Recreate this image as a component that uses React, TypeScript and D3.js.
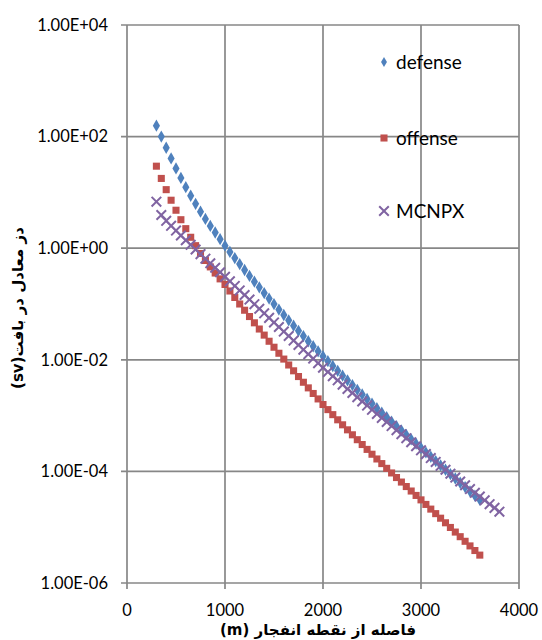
import React from 'react';
import * as d3 from 'd3';

const distanceM = [300,350,400,450,500,550,600,650,700,750,800,850,900,950,1000,1050,1100,1150,1200,1250,1300,1350,1400,1450,1500,1550,1600,1650,1700,1750,1800,1850,1900,1950,2000,2050,2100,2150,2200,2250,2300,2350,2400,2450,2500,2550,2600,2650,2700,2750,2800,2850,2900,2950,3000,3050,3100,3150,3200,3250,3300,3350,3400,3450,3500,3550,3600,3650,3700,3750,3800];

const defenseSv = [157, 100, 63.1, 40.7, 26.9, 18.2, 12.4, 8.71, 6.24, 4.52, 3.35, 2.51, 1.91, 1.45, 1.11,
  0.857, 0.665, 0.519, 0.406, 0.319, 0.251, 0.199, 0.157, 0.125, 0.0995, 0.0794, 0.0635, 0.0509, 0.0409, 0.0330, 0.0266, 0.0215, 0.0175, 0.0142, 0.0116,
  9.44e-3, 7.73e-3, 6.34e-3, 5.20e-3, 4.28e-3, 3.52e-3, 2.90e-3, 2.40e-3, 1.98e-3, 1.64e-3, 1.36e-3, 1.13e-3, 9.35e-4, 7.78e-4, 6.47e-4, 5.40e-4, 4.50e-4, 3.76e-4, 3.14e-4, 2.63e-4,
  2.19e-4, 1.83e-4, 1.53e-4, 1.28e-4, 1.07e-4, 8.91e-5, 7.46e-5, 6.25e-5, 5.24e-5, 4.39e-5, 3.68e-5, 3.09e-5];

const offenseSv = [29.5, 17.8, 11.2, 7.24, 4.79, 3.24, 2.24, 1.57, 1.11, 0.804, 0.603, 0.462, 0.359, 0.282, 0.224,
  0.171, 0.131, 0.100, 0.0773, 0.0596, 0.0460, 0.0356, 0.0277, 0.0215, 0.0168, 0.0131, 0.0103, 8.07e-3, 6.35e-3, 5.01e-3, 3.96e-3, 3.14e-3, 2.49e-3, 1.99e-3, 1.58e-3,
  1.28e-3, 1.04e-3, 8.41e-4, 6.84e-4, 5.56e-4, 4.53e-4, 3.70e-4, 3.03e-4, 2.48e-4, 2.03e-4, 1.67e-4, 1.38e-4, 1.135e-4, 9.38e-5, 7.76e-5, 6.44e-5, 5.35e-5, 4.45e-5, 3.71e-5, 3.09e-5,
  2.56e-5, 2.11e-5, 1.75e-5, 1.45e-5, 1.20e-5, 9.89e-6, 8.18e-6, 6.76e-6, 5.59e-6, 4.62e-6, 3.82e-6, 3.16e-6];

const mcnpxSv = [6.81, 3.94, 3.09, 2.52, 2.07, 1.69, 1.39, 1.15, 0.948, 0.783, 0.649, 0.537, 0.446, 0.371, 0.308,
  0.255, 0.211, 0.175, 0.145, 0.120, 0.0993, 0.0822, 0.0681, 0.0564, 0.0467, 0.0387, 0.0321, 0.0267, 0.0221, 0.0184, 0.0152, 0.0126, 0.0105, 8.71e-3, 7.23e-3,
  6.07e-3, 5.09e-3, 4.28e-3, 3.59e-3, 3.01e-3, 2.54e-3, 2.13e-3, 1.79e-3, 1.51e-3, 1.27e-3, 1.07e-3, 9.08e-4, 7.67e-4, 6.49e-4, 5.48e-4, 4.65e-4, 3.94e-4, 3.33e-4, 2.82e-4, 2.39e-4,
  2.04e-4, 1.73e-4, 1.48e-4, 1.26e-4, 1.07e-4, 9.10e-5, 7.74e-5, 6.59e-5, 5.64e-5, 4.83e-5, 4.13e-5, 3.54e-5, 3.03e-5, 2.59e-5, 2.22e-5, 1.90e-5];

const xTicks = [0, 1000, 2000, 3000, 4000];
const yTicks = [1e-6, 1e-4, 1e-2, 1e0, 1e2, 1e4];
const yTickLabels = ['1.00E-06', '1.00E-04', '1.00E-02', '1.00E+00', '1.00E+02', '1.00E+04'];
const seriesNames = ['defense', 'offense', 'MCNPX'];
const xTitle = 'فاصله از نقطه انفجار (m)';
const yTitle = 'دز معادل در بافت(sv)';

const COLORS = { defense: '#4F81BD', offense: '#C0504D', MCNPX: '#8064A2' };
const GRID = '#878787';
const FONT = 'Lato, "Open Sans", sans-serif';
const AR_FONT = '"DejaVu Sans", sans-serif';

export default function App() {
  const x = d3.scaleLinear().domain([0, 4000]).range([127, 519]);
  const y = d3.scaleLog().domain([1e-6, 1e4]).range([583, 25]);

  const diamond = d3.symbol().type(d3.symbolDiamond).size(44)();
  const square = d3.symbol().type(d3.symbolSquare).size(50)();

  const defensePts = defenseSv.map((v, i) => [x(distanceM[i]), y(v)]);
  const offensePts = offenseSv.map((v, i) => [x(distanceM[i]), y(v)]);
  const mcnpxPts = mcnpxSv.map((v, i) => [x(distanceM[i]), y(v)]);

  const cross = (cx: number, cy: number, r: number, key: string | number) => (
    <path key={key} d={`M${cx - r},${cy - r}L${cx + r},${cy + r}M${cx - r},${cy + r}L${cx + r},${cy - r}`}
      stroke={COLORS.MCNPX} strokeWidth={2} fill="none" />
  );

  const legendY = [62, 138, 211];

  return (
    <svg width={542} height={640} style={{ position: 'absolute', left: 0, top: 0, background: '#fff' }}>
      <rect x={0} y={0} width={542} height={640} fill="#fff" />
      {/* grid */}
      {xTicks.map((t) => (
        <line key={'gx' + t} x1={x(t)} x2={x(t)} y1={y(1e4)} y2={y(1e-6) + 6} stroke={GRID} strokeWidth={1.7} />
      ))}
      {yTicks.map((t) => (
        <line key={'gy' + t} x1={x(0) - 6} x2={x(4000)} y1={y(t)} y2={y(t)} stroke={GRID} strokeWidth={1.7} />
      ))}
      {/* tick labels */}
      {yTicks.map((t, i) => (
        <text key={'yl' + t} x={108} y={y(t)} dy="0.35em" textAnchor="end" fontFamily={FONT} fontSize={16.5} fill="#000">
          {yTickLabels[i]}
        </text>
      ))}
      {xTicks.map((t) => (
        <text key={'xl' + t} x={x(t)} y={616} textAnchor="middle" fontFamily={FONT} fontSize={16.5} fill="#000">
          {t}
        </text>
      ))}
      {/* series */}
      <g>
        {defensePts.map(([px, py], i) => (
          <path key={'d' + i} d={diamond} transform={`translate(${px},${py})`} fill={COLORS.defense} />
        ))}
      </g>
      <g>
        {offensePts.map(([px, py], i) => (
          <path key={'o' + i} d={square} transform={`translate(${px},${py})`} fill={COLORS.offense} />
        ))}
      </g>
      <g>{mcnpxPts.map(([px, py], i) => cross(px, py, 4.8, 'm' + i))}</g>
      {/* legend */}
      <path d={d3.symbol().type(d3.symbolDiamond).size(30)()} transform={`translate(384,${legendY[0]})`} fill={COLORS.defense} />
      <path d={square} transform={`translate(384,${legendY[1]})`} fill={COLORS.offense} />
      {cross(384, legendY[2], 4.8, 'lg')}
      {seriesNames.map((n, i) => (
        <text key={n} x={396} y={legendY[i]} dy="0.35em" fontFamily={FONT} fontSize={19} fill="#000">{n}</text>
      ))}
      {/* axis titles */}
      <text x={318} y={635} textAnchor="middle" fontFamily={AR_FONT} fontWeight="bold" fontSize={15} direction="rtl" fill="#000">
        {xTitle}
      </text>
      <text transform="translate(23,308) rotate(-90)" textAnchor="middle" fontFamily={AR_FONT} fontWeight="bold" fontSize={15} direction="rtl" fill="#000">
        {yTitle}
      </text>
    </svg>
  );
}
